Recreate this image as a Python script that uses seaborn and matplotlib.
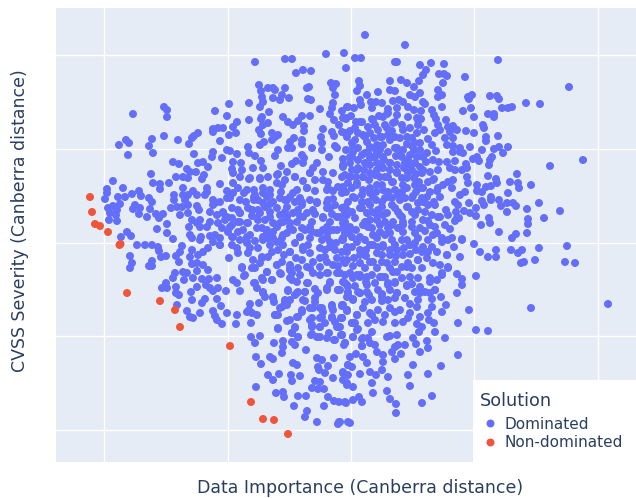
import pandas as pd
import matplotlib
matplotlib.use('Agg')
import matplotlib.pyplot as plt
import seaborn as sns

# values, the source axis has no tick labels so the scale is arbitrary
dom_upper_left = [
    (255,62),(285,59),(292,59),(326,54),(344,53),(346,68),(296,73),(303,70),(311,71),(259,85),(261,91),(268,88),(273,88),(275,90),(285,88),(307,88),(309,87),(331,83),(336,84),(333,88),
    (262,97),(273,98),(280,100),(282,95),(289,98),(308,99),(311,100),(335,95),(333,103),(263,102),(249,103),(229,104),(215,111),(260,107),(269,112),(320,109),(332,108),(342,111),(348,107),(227,116),
    (133,114),(164,107),(167,110),(167,117),(262,117),(249,120),(261,119),(283,117),(288,122),(293,125),(298,121),(302,116),(310,116),(330,114),(334,120),(346,119),
    (237,122),(233,127),(268,123),(263,125),(304,126),(339,125),(213,129),(218,128),(223,128),(213,132),(229,135),(236,133),(259,130),(261,134),(272,133),(278,135),(272,140),(275,137),(304,131),(323,129),(321,137),(332,132),(334,136),(342,132),(348,133),
    (198,133),(194,136),(192,138),(189,144),(178,140),(164,136),(152,139),(149,146),(126,140),(129,143),(119,145),(153,153),(128,155),
    (220,141),(294,138),(290,142),(302,140),(302,144),(264,142),(260,145),(248,147),(227,150),(230,151),(322,143),(322,150),(335,146),(337,148),(312,148),(292,148),(288,148),(278,150),(275,156),(249,153),(213,152),(212,157),(222,158),(194,154),(255,156),(237,154),(302,155),(304,158),(329,157),(343,159),
    (173,162),(179,164),(198,163),(203,162),(208,167),(233,162),(241,163),(261,161),(263,168),(281,166),(292,164),(296,161),(303,163),(317,163),(313,168),(343,167),(253,168),(242,170),(232,169),
    (187,169),(190,172),(196,172),(204,175),(202,179),(151,174),(176,177),(183,177),(188,178),(233,173),(240,177),(249,179),(260,179),(268,177),(278,174),(287,172),(295,177),(310,173),(323,172),(333,173),(342,177),
    (113,181),(153,183),(160,184),(169,183),(220,184),(233,183),(277,183),(285,180),(303,181),(315,180),(328,182),(348,183),
    (123,188),(107,189),(139,191),(160,189),(183,188),(193,191),(207,188),(227,191),(238,188),(254,190),(263,188),(270,190),(297,190),(307,188),(315,191),(328,188),(333,191),(342,193),
    (107,193),(132,194),(125,197),(118,197),(141,196),(174,195),(183,195),(188,195),(197,195),(207,192),(233,193),(244,193),(254,197),(267,197),(281,192),(290,197),(300,198),(328,200),(333,199),
    (105,199),(149,198),(174,200),(152,202),(213,200),(220,202),(227,198),(246,202),(254,200),(263,203),(273,202),(285,200),(302,202),(317,202),(327,203),
    (113,206),(120,204),(135,205),(140,208),(133,209),(171,208),(177,207),(182,207),(188,205),(197,206),(199,210),(213,205),(223,212),(238,210),(252,210),(258,210),(277,208),(287,207),(298,210),(313,210),(327,208),(342,208),
    (108,208),(117,210),(110,213),(116,215),(139,214),(150,209),(147,217),(156,214),(163,214),(159,218),(188,213),(192,220),(217,215),(227,217),(240,213),(270,217),(287,217),(303,217),(323,217),(340,217),
    (109,220),(117,221),(167,224),(197,223),(210,222),(218,223),(240,222),(248,223),(258,220),(280,223),(290,223),(310,227),(327,227),(343,223),
    (157,229),(167,233),(189,227),(200,227),(207,227),(230,227),(257,228),(267,230),(277,227),(293,230),(317,233),(323,230),(337,230),(348,233),
    (127,232),(121,237),(131,236),(173,239),(190,235),(201,237),(210,236),(220,238),(232,237),(247,237),(263,237),(273,238),(283,235),(300,237),(327,237),(343,238),
]
dom_upper_right = [
    (365,35),(405,45),(355,58),(361,58),(397,62),(395,62),(420,65),(431,63),(444,64),(498,60),(426,70),(423,75),(439,74),(444,74),(447,76),(465,77),(569,87),
    (359,81),(360,86),(390,81),(401,80),(407,83),(419,81),(414,87),(443,83),(357,91),(390,90),(395,91),(378,92),(367,95),(438,90),(410,95),(420,93),(442,95),(438,97),(472,95),(468,97),(469,99),(490,96),(497,96),(499,99),
    (360,100),(361,105),(371,102),(376,102),(382,103),(393,101),(399,100),(403,102),(415,97),(423,102),(425,104),(526,103),(540,104),(512,107),(508,108),(502,108),
    (347,107),(354,108),(372,108),(388,109),(387,114),(397,108),(408,107),(414,110),(421,111),(432,110),(442,107),(463,111),(471,108),(488,114),(494,114),(494,117),(474,117),
    (346,118),(351,116),(356,122),(362,122),(372,119),(379,116),(388,113),(397,115),(408,117),(417,118),(421,119),(434,115),(436,119),(446,120),
    (375,125),(385,125),(393,123),(402,125),(418,125),(438,125),(448,127),(453,126),(483,125),(484,128),
    (350,131),(345,133),(358,133),(370,133),(378,130),(387,128),(403,130),(417,133),(435,133),(440,130),(450,132),(457,130),(466,131),(474,133),
    (347,137),(365,137),(382,137),(395,137),(407,137),(428,139),(445,138),(453,138),(486,137),(486,141),(498,136),
    (352,143),(367,142),(377,145),(390,140),(407,144),(415,143),(432,145),(447,145),(453,146),(460,148),(470,147),(482,150),(494,149),(499,147),(508,147),
    (353,152),(368,152),(380,150),(395,148),(420,150),(436,151),(453,152),(460,152),(503,153),(492,157),(583,160),
    (352,157),(362,155),(373,157),(383,157),(400,155),(410,155),(423,157),(473,159),(477,157),(479,161),(490,160),
    (350,163),(365,163),(377,163),(390,163),(405,163),(415,163),(439,162),(455,161),(466,164),(489,165),(550,166),
    (357,170),(370,173),(383,168),(397,172),(412,170),(423,170),(438,170),(450,168),(462,170),(467,168),
    (350,177),(363,177),(380,177),(407,178),(434,179),(453,180),(467,177),(488,176),(517,174),(496,179),
    (357,183),(377,185),(392,182),(419,182),(443,185),(468,183),(477,185),(497,183),(510,182),(518,183),(531,185),(491,186),(486,187),(519,188),
    (352,188),(363,190),(383,190),(395,190),(407,188),(420,188),(437,191),(452,188),(465,192),(477,191),(482,192),(508,193),
    (370,193),(390,197),(413,196),(427,197),(460,195),(491,197),(491,200),(499,200),
    (355,198),(368,202),(382,202),(400,200),(423,202),(434,202),(458,205),(469,203),(482,201),(484,205),(507,203),(513,203),(516,206),(501,206),(539,203),
    (345,207),(360,208),(378,210),(395,208),(408,207),(418,210),(446,210),(456,212),(464,211),(476,208),(507,212),(527,209),(560,211),
    (347,215),(367,213),(387,213),(402,217),(415,215),(438,217),(448,215),(470,213),(476,216),(544,218),(489,218),(528,219),
    (365,222),(377,220),(392,225),(403,222),(428,221),(455,221),(459,218),(481,225),(490,223),(528,224),
    (350,227),(368,227),(398,228),(412,227),(435,227),(450,229),(499,232),(527,233),
    (345,233),(360,237),(380,232),(385,235),(415,233),(425,231),(437,233),(442,238),(452,238),(462,239),(516,234),(512,238),
]
dom_lower_left = [
    (137,245),(145,245),(152,245),(158,247),(159,251),(166,256),(161,257),(130,256),(132,263),(130,268),(152,261),(152,266),(149,266),
    (182,246),(180,252),(176,256),(179,262),(192,238),(192,250),(190,257),(198,255),(203,252),(208,248),(200,240),(213,242),(220,245),(232,245),(229,258),(238,253),(247,242),(250,248),(263,240),(277,242),(290,252),(303,247),(320,258),(330,247),(343,260),
    (192,264),(197,263),(203,265),(208,270),(197,271),(175,273),(173,278),(183,272),(187,273),(184,280),(193,278),(202,279),(209,279),(217,278),(197,287),(166,283),(162,288),(167,288),(176,287),(176,293),(179,295),(191,292),(206,285),(210,288),(213,291),(218,288),(226,291),(233,280),(237,283),(240,291),(242,268),(244,276),(253,260),(252,268),(260,263),(262,257),(267,272),(277,265),(281,274),(290,268),(292,273),(307,267),(313,273),(327,273),(337,273),
    (254,283),(257,288),(263,280),(272,280),(263,292),(265,297),(288,291),(298,292),(295,295),(305,292),(315,289),(327,288),(330,283),(338,290),(348,292),(297,282),(307,283),(290,278),
    (192,300),(205,299),(202,303),(217,299),(177,305),(221,306),(187,311),(200,313),(213,311),(227,313),(215,316),(217,320),(190,317),(193,318),(222,324),(237,315),(236,324),(251,323),(259,303),(250,304),(249,310),(247,312),(252,313),(257,315),(273,297),(274,302),(285,300),(282,307),(287,305),(278,315),(275,315),(302,310),(297,317),(287,321),(305,301),(315,298),(313,308),(322,308),(323,312),(310,320),(320,318),(333,310),(332,305),(342,305),(347,310),(341,318),(332,317),(335,322),(339,327),(329,333),(320,327),(312,327),
    (278,329),(295,327),(292,333),(298,337),(311,335),(317,337),(327,338),(334,340),(341,335),(345,343),(251,337),(260,336),(255,343),(274,343),(283,341),(292,342),(295,345),(283,347),(282,353),(306,350),(256,357),(270,357),(273,359),(261,364),(293,363),(297,365),(317,358),(322,360),(334,358),(318,367),(328,366),(319,370),(325,373),(348,365),(343,372),(268,375),(279,374),(291,375),(300,376),(273,380),(292,381),(333,378),(315,381),(320,382),(343,380),(347,385),(256,387),(312,388),(318,389),(324,389),(276,393),(283,392),(284,397),(298,396),(306,396),(328,397),(334,401),(339,402),(345,402),(294,406),(324,406),(307,411),(305,417),(317,422),(339,422),(348,422),(338,424),
]
dom_lower_right = [
    (474,244),(480,252),(488,257),(496,250),(496,257),(511,250),(522,250),(518,253),(539,248),(567,246),(535,260),(521,263),(524,262),(565,262),(575,263),(476,276),(460,257),(457,274),(462,279),(462,285),(457,293),(469,310),(531,308),(608,304),(446,305),(441,297),(442,312),(458,323),(476,330),(488,331),(435,332),(445,338),(458,355),(441,366),(428,374),(408,375),(410,386),(432,396),(422,403),(396,413),(396,404),(390,399),(387,391),(373,393),(388,377),(382,370),(376,375),(370,372),(383,362),(367,363),(363,357),(356,354),(413,365),(395,359),(401,354),(392,352),(383,355),(377,352),(420,352),(428,348),(416,344),(405,345),(398,345),(395,347),(427,341),(413,338),(397,335),(390,336),(387,337),(370,343),(375,345),(362,346),(344,345),(353,337),(363,338),(372,332),(358,329),(342,335),(355,323),(352,323),(368,323),(375,320),(383,322),(395,323),(403,322),(417,324),(422,327),(419,332),(429,320),(434,323),(420,317),(428,313),(410,313),(417,307),(432,307),(400,310),(390,308),(378,310),(363,308),(347,310),(342,318),(357,315),(370,313),(385,315),(365,302),(382,301),(395,298),(410,304),(418,300),(432,299),(353,299),(343,305),(347,297),(358,292),(369,295),(382,294),(397,293),(415,292),(425,292),(435,290),(367,285),(388,283),(395,282),(407,286),(420,287),(430,282),(437,280),(357,275),(372,275),(382,277),(410,277),(422,268),(442,273),(448,267),(433,263),(418,260),(447,255),(437,252),(422,252),(454,247),(462,240),(448,240),(442,242),(433,235),(415,243),(410,245),(397,250),(383,247),(373,245),(360,250),(347,247),(347,260),(360,263),(373,262),(387,263),(402,267),(408,263),(397,272),(340,273),(350,273),(343,282),(348,287),(340,290),(340,327),(350,357),(348,365),(352,367),(360,374),(343,373),(348,375),(347,383),(353,387),(359,397),(362,402),(353,400),(346,403),(372,383),(350,423),(340,422),
]
dom_core_top = [
    (343,118),(360,122),(373,120),(383,117),(395,122),(418,120),(363,135),(380,137),(353,147),(370,147),(383,145),(397,148),(412,138),(420,143),(350,157),(365,153),(377,155),(390,163),(402,157),(417,157),(427,153),(343,165),(358,168),(370,165),(382,167),(397,165),(408,160),(420,167),(433,160),(447,162),(463,153),
    (350,177),(363,177),(375,175),(385,177),(397,173),(408,173),(422,173),(433,180),(455,170),(343,187),(357,185),(370,188),(382,185),(393,182),(403,185),(415,185),(423,188),(438,188),(448,182),(353,197),(373,197),(385,198),(398,195),(412,198),(422,198),(440,197),(370,205),(382,207),(392,205),(407,207),(418,203),(435,205),(455,202),
    (355,128),(368,127),(392,131),(410,128),(424,130),(355,140),(374,138),(388,135),(400,138),(412,146),(358,148),(376,150),(388,152),(403,150),(414,150),(346,150),(358,160),(370,158),(384,160),(396,156),(410,165),(426,162),(352,170),(364,170),(377,170),(390,170),(404,168),(416,174),(430,172),(345,175),(356,177),(369,180),(388,177),(402,178),(414,178),(428,182),(346,192),(362,195),(376,192),(388,192),(402,192),(416,192),(430,192),(348,202),(362,202),(376,200),(392,198),(405,198),(428,205),(352,212),(372,212),(383,215),(398,212),(412,212),(425,212),
]
dom_core_left = [
    (250,178),(260,178),(277,175),(295,177),(310,173),(323,180),(247,190),(263,193),(282,185),(293,193),(307,188),(327,190),(338,187),(230,198),(252,210),(265,207),(287,200),(302,205),(317,203),(330,208),(215,203),(223,213),(240,213),(260,213),(280,215),(293,213),(307,213),(323,218),(337,217),
    (232,225),(247,223),(257,218),(273,223),(290,227),(305,230),(320,233),(333,230),(215,235),(233,237),(250,235),(267,232),(282,238),(300,237),(310,238),(330,242),(220,245),(237,248),(247,243),(270,245),(290,252),(303,250),(320,248),(335,250),(248,253),(268,257),(302,260),(313,262),(325,257),(337,258),(262,258),(278,250),(242,267),(277,265),(290,265),(320,267),(333,265),
    (240,200),(258,200),(270,204),(280,198),(295,202),(310,200),(335,205),(232,208),(248,208),(270,212),(285,212),(300,216),(315,214),(332,214),(345,212),(225,220),(238,222),(252,216),(265,220),(283,222),(297,222),(312,222),(330,222),(345,222),(228,232),(243,230),(262,228),(273,232),(287,233),(302,228),(312,232),(328,232),(342,240),(240,240),(255,241),(268,238),(283,245),(295,243),(308,245),(322,240),(336,243),(258,248),(272,252),(284,255),(296,258),(310,253),(325,250),(342,252),(282,262),(298,268),(310,268),(327,262),(338,266),
    (185,200),(205,195),(210,212),(232,218),(255,195),(270,195),(222,228),(238,232),(180,215),(200,220),
]
dom_core_right = [
    (347,210),(362,208),(370,220),(393,222),(403,225),(423,220),(440,217),(457,218),(350,230),(363,225),(380,225),(373,235),(390,233),(407,240),(343,240),(357,242),(370,245),(383,245),(395,245),(410,245),(347,252),(360,255),(377,253),(390,255),(403,255),(345,263),(370,262),(382,262),(395,262),(407,267),(423,247),(432,247),(447,255),(427,258),(418,260),(440,265),(448,268),
    (360,277),(380,277),(393,272),(418,278),(430,278),(442,275),(345,283),(388,285),(395,283),(407,285),(435,290),(348,293),(360,293),(382,297),(397,293),(420,293),(430,293),
    (355,218),(377,215),(385,222),(400,215),(412,222),(432,215),(343,228),(356,230),(372,228),(388,228),(403,232),(420,228),(430,225),(445,225),(352,237),(365,240),(377,238),(392,240),(402,240),(418,238),(428,240),(352,247),(366,250),(378,247),(390,250),(404,248),(416,250),(428,252),(354,258),(366,256),(382,255),(396,256),(410,254),(353,266),(365,268),(377,268),(390,268),(412,268),(345,275),(366,282),(375,283),(385,277),(402,278),(355,286),(378,290),(390,290),(412,284),(372,300),(388,300),(405,298),(372,315),(395,312),(408,318),
]
dom_core_low = [
    (245,275),(255,268),(262,278),(255,283),(263,293),(267,272),(272,280),(280,273),(290,270),(292,280),(300,275),(308,283),(320,275),(328,273),(330,282),(327,290),(318,293),(315,302),(305,292),(297,293),(288,290),(273,298),(285,302),(290,300),(280,308),(275,315),(303,300),(302,312),(290,320),(298,317),(310,308),(320,308),(332,307),(342,306),(347,311),(312,318),(322,317),(312,325),(320,327),(332,318),(325,323),(337,327),(342,318),(352,323),(357,315),(357,330),
    (347,285),(348,295),(338,290),(360,293),(367,292),(353,300),(360,275),(353,278),(367,277),(278,328),(295,328),(292,333),(298,337),(312,334),(320,337),(335,340),(342,335),(353,337),(362,339),(368,338),(345,343),(362,346),
]
non_dominated = [(90,197),(92,212),(95,224),(100,226),(108,232),(119.5,245),(120.5,244),(127,293),(160,301),(175,310),(180,327),(230,346),(251,402),(263,419),(274,420),(288,434)]

# gridline positions, no labels on them
x_grid = [104, 228, 351, 474, 598]
y_grid = [55, 149, 243, 336, 430]

rows = []
for group in [dom_upper_left, dom_upper_right, dom_lower_left, dom_lower_right,
              dom_core_top, dom_core_left, dom_core_right, dom_core_low]:
    rows += [(a, b, 'Dominated') for a, b in group]
rows += [(a, b, 'Non-dominated') for a, b in non_dominated]
df = pd.DataFrame(rows, columns=['importance', 'severity', 'Solution'])

sns.set_theme(style='white', rc={'axes.facecolor': '#E5ECF6', 'font.family': 'DejaVu Sans'})
fig = plt.figure(figsize=(6.36, 4.98), dpi=100)
ax = fig.add_axes([56/636, 1 - 462/498, 580/636, 454/498])

sns.scatterplot(data=df, x='importance', y='severity', hue='Solution', ax=ax,
                palette={'Dominated': '#636EFA', 'Non-dominated': '#EF553B'},
                s=33, linewidth=0, alpha=1, zorder=3)

ax.set_xlim(56, 636)
ax.set_ylim(462, 8)  # severity axis reads upward
ax.set_xticks(x_grid)
ax.set_yticks(y_grid)
ax.tick_params(length=0, labelbottom=False, labelleft=False)
ax.grid(True, color='white', linewidth=1.0)
ax.set_axisbelow(True)
sns.despine(ax=ax, left=True, bottom=True, right=True, top=True)

ax.set_xlabel('Data Importance (Canberra distance)', fontsize=12.5, color='#2a3f5f')
ax.set_ylabel('CVSS Severity (Canberra distance)', fontsize=12.5, color='#2a3f5f')
ax.xaxis.set_label_coords(0.524, -0.037)
ax.yaxis.set_label_coords(-0.047, 0.531)

# white box behind the legend, like the source
ax.add_patch(plt.Rectangle((0.719, 0), 0.281, 0.181, transform=ax.transAxes,
                           facecolor='white', edgecolor='none', zorder=4))
leg = ax.legend(title='Solution', loc='upper left', bbox_to_anchor=(0.719, 0.170), frameon=False,
                fontsize=11, title_fontsize=12.7, alignment='left', labelspacing=0.23,
                borderaxespad=0, handlelength=1.3, handletextpad=0.33, borderpad=0.46,
                labelcolor='#2a3f5f')
leg.get_title().set_color('#2a3f5f')
leg._legend_box.sep = 5
leg.set_zorder(5)

fig.savefig('out.png', dpi=100)
